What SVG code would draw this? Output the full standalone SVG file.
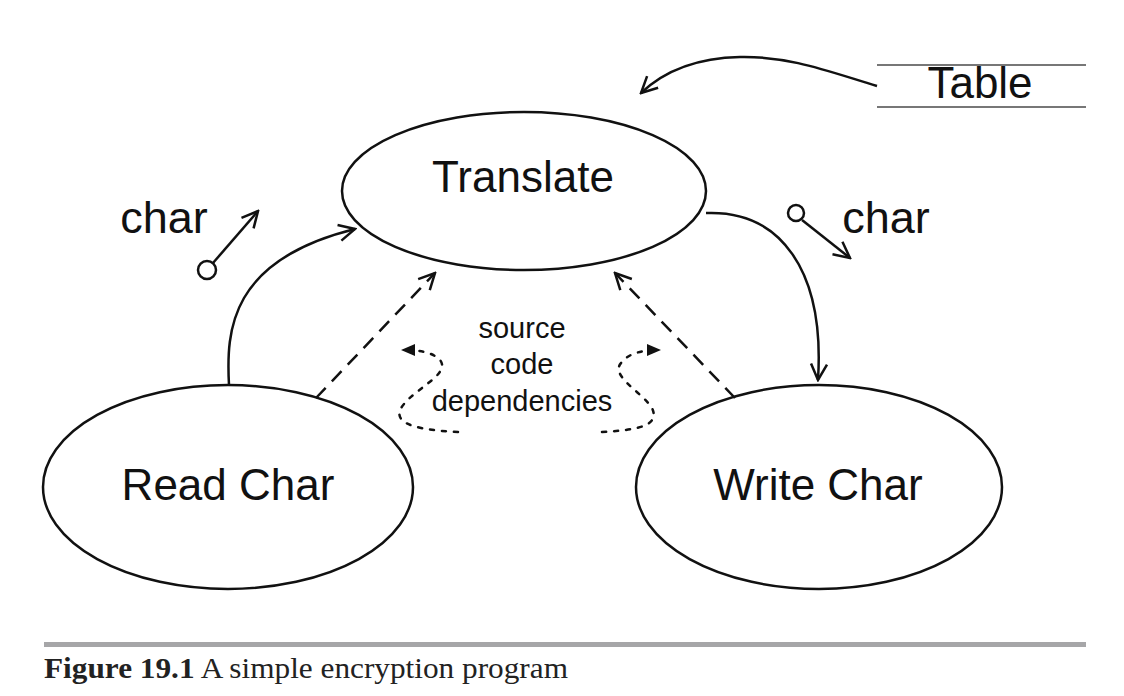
<svg xmlns="http://www.w3.org/2000/svg" width="1124" height="696" viewBox="0 0 1124 696">
<style>
.n{fill:none;stroke:#111;stroke-width:2.5}
.c{fill:none;stroke:#111;stroke-width:2.5}
.t{font-family:"Liberation Sans",Arial,sans-serif;fill:#111;text-anchor:middle}
.d{stroke-dasharray:14 9}
.o{stroke-dasharray:4 8;stroke-linecap:round}
</style>
<defs>
<marker id="oa" viewBox="0 0 20 20" refX="18" refY="10" markerWidth="20" markerHeight="20" markerUnits="userSpaceOnUse" orient="auto">
<path d="M2 2 L18 10 L2 18" fill="none" stroke="#111" stroke-width="2.5"/>
</marker>
<marker id="fa" viewBox="0 0 14 14" refX="13" refY="7" markerWidth="14" markerHeight="14" markerUnits="userSpaceOnUse" orient="auto">
<path d="M0 1 L14 7 L0 13 Z" fill="#111"/>
</marker>
</defs>
<rect width="1124" height="696" fill="#fff"/>
<g id="translate">
<ellipse class="n" cx="524" cy="191" rx="182" ry="79"/>
<text class="t" x="523" y="192" font-size="44">Translate</text>
</g>
<g id="readchar">
<ellipse class="n" cx="228" cy="487" rx="185" ry="102"/>
<text class="t" x="228" y="500" font-size="44">Read Char</text>
</g>
<g id="writechar">
<ellipse class="n" cx="819" cy="487" rx="183" ry="102"/>
<text class="t" x="818" y="500" font-size="44">Write Char</text>
</g>
<g id="table">
<line x1="877" y1="65" x2="1086" y2="65" stroke="#777" stroke-width="2"/>
<line x1="877" y1="107" x2="1086" y2="107" stroke="#777" stroke-width="2"/>
<text class="t" x="980" y="98" font-size="44">Table</text>
</g>
<g id="connectors">
<path class="c" d="M877 86 C830 72 790 56 740 57 C690 58 660 75 641 93" marker-end="url(#oa)"/>
<path class="c" d="M229 385 C226 330 230 260 355 229" marker-end="url(#oa)"/>
<path class="c" d="M706 213 C780 210 825 270 818 380" marker-end="url(#oa)"/>
<path class="c d" d="M316 398 L435 273" marker-end="url(#oa)"/>
<path class="c d" d="M735 398 L615 273" marker-end="url(#oa)"/>
<path class="c o" d="M458 432 C420 430 395 425 400 410 C410 390 452 375 440 360 C432 352 420 350 402 350" marker-end="url(#fa)"/>
<path class="c o" d="M602 432 C640 430 660 425 652 408 C642 392 608 375 622 362 C630 352 645 350 660 350" marker-end="url(#fa)"/>
<circle cx="207" cy="270" r="9" fill="#fff" stroke="#111" stroke-width="2.5"/>
<path class="c" d="M213 263 L258 211" marker-end="url(#oa)"/>
<circle cx="796" cy="213" r="8" fill="#fff" stroke="#111" stroke-width="2.5"/>
<path class="c" d="M802 220 L850 258" marker-end="url(#oa)"/>
<text class="t" x="164" y="233" font-size="45">char</text>
<text class="t" x="886" y="233" font-size="45">char</text>
<text class="t" x="522" y="338" font-size="29">source</text>
<text class="t" x="522" y="374" font-size="29">code</text>
<text class="t" x="522" y="411" font-size="29">dependencies</text>
</g>
<rect x="44" y="642" width="1042" height="5" fill="#a6a6a8"/>
<text x="44" y="678" font-family="Liberation Serif,'Times New Roman',serif" font-size="30" fill="#222" textLength="524" lengthAdjust="spacingAndGlyphs"><tspan font-weight="bold">Figure 19.1</tspan> A simple encryption program</text>
</svg>
